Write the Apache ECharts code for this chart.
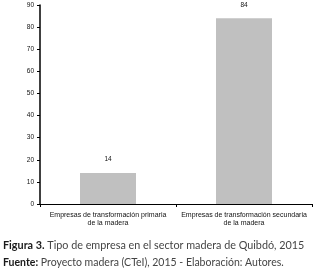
<!DOCTYPE html>
<html>
<head>
<meta charset="utf-8">
<script src="https://cdn.jsdelivr.net/npm/echarts@6/dist/echarts.min.js"></script>
<style>
  html, body { margin: 0; padding: 0; background: #fff; }
  #chart { width: 317px; height: 273px; }
</style>
</head>
<body>
<div id="chart"></div>
<script>
const categories = [
  "Empresas de transformación primaria\nde la madera",
  "Empresas de transformación secundaria\nde la madera"
];
const values = [14, 84];
const yTicks = [0, 10, 20, 30, 40, 50, 60, 70, 80, 90];

const chart = echarts.init(document.getElementById("chart"));

const option = {
  animation: false,
  grid: { left: 40, right: 5, top: 5, bottom: 69 },
  xAxis: {
    type: "category",
    data: categories,
    axisLine: { lineStyle: { color: "#000", width: 1 } },
    axisTick: { show: true, length: 3, lineStyle: { color: "#000" } },
    axisLabel: {
      fontFamily: "Liberation Sans",
      fontSize: 7,
      color: "#111",
      lineHeight: 8,
      margin: 7,
      interval: 0
    }
  },
  yAxis: {
    type: "value",
    min: 0,
    max: 90,
    interval: 10,
    axisLine: { show: true, lineStyle: { color: "#000", width: 1.5 } },
    axisTick: { show: true, length: 3, lineStyle: { color: "#000" } },
    splitLine: { show: false },
    axisLabel: {
      fontFamily: "Liberation Sans",
      fontSize: 6.5,
      color: "#111",
      margin: 6,
      formatter: (v) => (yTicks.includes(v) ? String(v) : "")
    }
  },
  series: [
    {
      type: "bar",
      data: values,
      barWidth: 56,
      itemStyle: { color: "#c0c0c0" },
      label: {
        show: true,
        position: "top",
        distance: 10,
        fontFamily: "Liberation Sans",
        fontSize: 6.5,
        color: "#111"
      }
    }
  ],
  graphic: [
    {
      type: "text",
      left: 3,
      top: 240,
      style: {
        text: "{b|Figura 3.} Tipo de empresa en el sector madera de Quibdó, 2015",
        rich: {
          b: { fontFamily: "Lato", fontSize: 10.8, fontWeight: "bold", fill: "#1a1a1a" }
        },
        fontFamily: "Lato",
        fontSize: 10.8,
        fill: "#444"
      }
    },
    {
      type: "text",
      left: 3,
      top: 257,
      style: {
        text: "{b|Fuente:} Proyecto madera (CTeI), 2015 - Elaboración: Autores.",
        rich: {
          b: { fontFamily: "Lato", fontSize: 10.5, fontWeight: "bold", fill: "#1a1a1a" }
        },
        fontFamily: "Lato",
        fontSize: 10.5,
        fill: "#444"
      }
    }
  ]
};

chart.setOption(option);
</script>
</body>
</html>
